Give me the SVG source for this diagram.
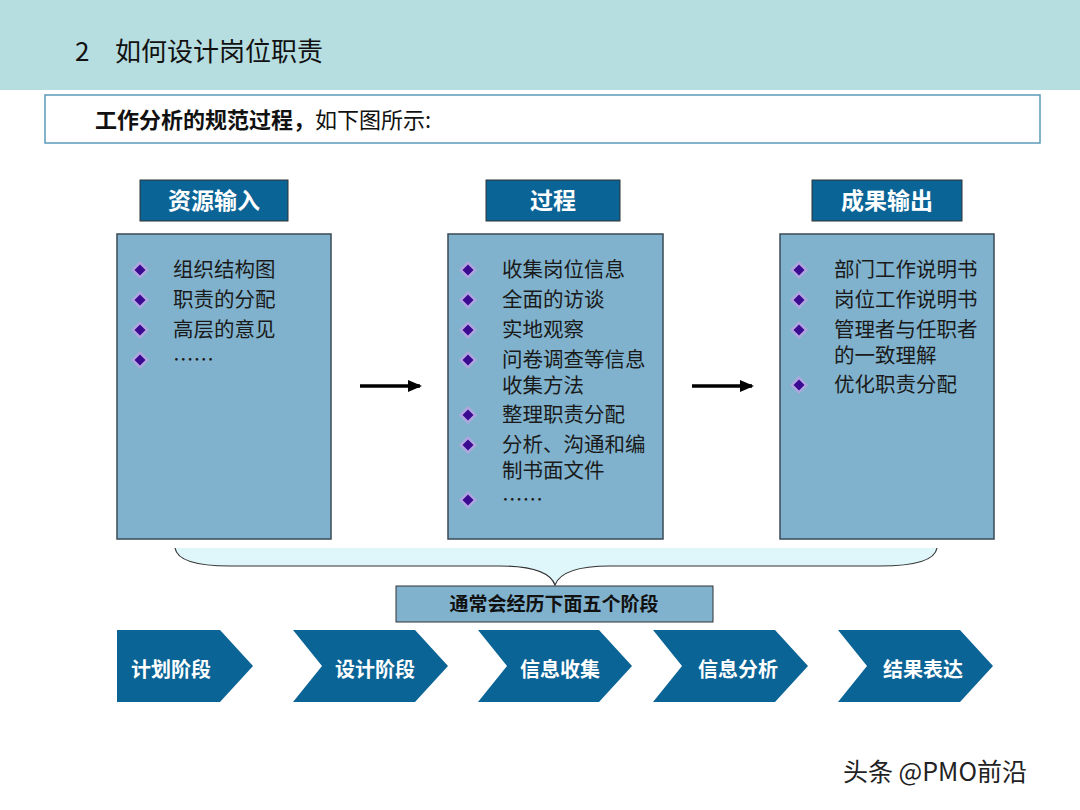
<svg xmlns="http://www.w3.org/2000/svg" width="1080" height="810" viewBox="0 0 1080 810">
<style>
.t{font-family:"Noto Sans CJK SC","Liberation Sans",sans-serif}
.hd{fill:#0b6496;stroke:#333;stroke-width:1}
.hdt{font-family:"Noto Sans CJK SC",sans-serif;font-weight:bold;font-size:23px;fill:#fff;text-anchor:middle}
.bx{fill:#80b2cd;stroke:#3a4a55;stroke-width:1.5}
.it{font-family:"Noto Sans CJK SC",sans-serif;font-size:20.5px;fill:#1a1a1a}
.ch{fill:#0b6496}
.cht{font-family:"Noto Sans CJK SC",sans-serif;font-weight:bold;font-size:20px;fill:#fff;text-anchor:middle}
.d1{fill:#b0a6e0}.d2{fill:#3a0a90}
</style>
<defs>
<g id="dm"><path d="M0,-9 L9,0 L0,9 L-9,0Z" class="d1"/><path d="M0,-5.5 L5.5,0 L0,5.5 L-5.5,0Z" class="d2"/></g>
<marker id="ar" markerWidth="14" markerHeight="12" refX="12" refY="6" orient="auto" markerUnits="userSpaceOnUse"><path d="M0,0 L14,6 L0,12Z" fill="#000"/></marker>
</defs>
<rect width="1080" height="810" fill="#fff"/>
<rect width="1080" height="90" fill="#b6dde0"/>
<text x="75" y="61" class="t" font-size="26" fill="#111">2<tspan x="115">如何设计岗位职责</tspan></text>
<rect x="45" y="95" width="995" height="48" fill="#fff" stroke="#5a9ab8" stroke-width="1.5"/>
<text x="95" y="128" class="t" font-size="22" fill="#111"><tspan font-weight="bold">工作分析的规范过程，</tspan>如下图所示:</text>

<g id="n1">
<rect x="140" y="180" width="148" height="41" class="hd"/><text x="214" y="209" class="hdt">资源输入</text>
<rect x="117" y="234" width="214" height="305" class="bx"/>
<use href="#dm" x="140" y="270"/><use href="#dm" x="140" y="300"/><use href="#dm" x="140" y="330"/><use href="#dm" x="140" y="360"/>
<text class="it" x="173" y="277">组织结构图</text><text class="it" x="173" y="307">职责的分配</text><text class="it" x="173" y="337">高层的意见</text><text class="it" x="173" y="367">……</text>
</g>
<g id="n2">
<rect x="486" y="180" width="134" height="41" class="hd"/><text x="553" y="209" class="hdt">过程</text>
<rect x="448" y="234" width="215" height="305" class="bx"/>
<use href="#dm" x="468" y="270"/><use href="#dm" x="468" y="300"/><use href="#dm" x="468" y="330"/><use href="#dm" x="468" y="360"/><use href="#dm" x="468" y="415"/><use href="#dm" x="468" y="445"/><use href="#dm" x="468" y="500"/>
<text class="it" x="502" y="277">收集岗位信息</text><text class="it" x="502" y="307">全面的访谈</text><text class="it" x="502" y="337">实地观察</text><text class="it" x="502" y="367">问卷调查等信息</text><text class="it" x="502" y="393">收集方法</text><text class="it" x="502" y="422">整理职责分配</text><text class="it" x="502" y="452">分析、沟通和编</text><text class="it" x="502" y="478">制书面文件</text><text class="it" x="502" y="507">……</text>
</g>
<g id="n3">
<rect x="812" y="180" width="150" height="41" class="hd"/><text x="887" y="209" class="hdt">成果输出</text>
<rect x="780" y="234" width="214" height="305" class="bx"/>
<use href="#dm" x="799" y="270"/><use href="#dm" x="799" y="300"/><use href="#dm" x="799" y="330"/><use href="#dm" x="799" y="385"/>
<text class="it" x="834" y="277">部门工作说明书</text><text class="it" x="834" y="307">岗位工作说明书</text><text class="it" x="834" y="337">管理者与任职者</text><text class="it" x="834" y="363">的一致理解</text><text class="it" x="834" y="392">优化职责分配</text>
</g>
<g id="connectors">
<line x1="360" y1="386" x2="420" y2="386" stroke="#000" stroke-width="3.5" marker-end="url(#ar)"/>
<line x1="692" y1="386" x2="752" y2="386" stroke="#000" stroke-width="3.5" marker-end="url(#ar)"/>
<path d="M175,548 Q178,566 230,566 L500,566 Q548,566 555,585 Q562,566 610,566 L880,566 Q934,566 937,548Z" fill="#dff6fa"/>
<path d="M175,548 Q178,566 230,566 L500,566 Q548,566 555,585 Q562,566 610,566 L880,566 Q934,566 937,548" fill="none" stroke="#333" stroke-width="1.2"/>
</g>
<g id="n4"><rect x="396" y="586" width="317" height="36" fill="#80b2cd" stroke="#333"/><text x="554" y="611" class="t" font-weight="bold" font-size="19" fill="#111" text-anchor="middle">通常会经历下面五个阶段</text></g>
<g id="s1"><path d="M117,630 L220,630 L253,666 L220,702 L117,702Z" class="ch"/><text x="171" y="677" class="cht">计划阶段</text></g>
<g id="s2"><path d="M293,630 L415,630 L448,666 L415,702 L293,702 L322,666Z" class="ch"/><text x="375" y="677" class="cht">设计阶段</text></g>
<g id="s3"><path d="M478,630 L599,630 L632,666 L599,702 L478,702 L507,666Z" class="ch"/><text x="560" y="677" class="cht">信息收集</text></g>
<g id="s4"><path d="M653,630 L775,630 L808,666 L775,702 L653,702 L682,666Z" class="ch"/><text x="738" y="677" class="cht">信息分析</text></g>
<g id="s5"><path d="M838,630 L960,630 L993,666 L960,702 L838,702 L867,666Z" class="ch"/><text x="923" y="677" class="cht">结果表达</text></g>
<text x="843" y="781" class="t" font-size="25" fill="#222">头条 @PMO前沿</text>
</svg>
